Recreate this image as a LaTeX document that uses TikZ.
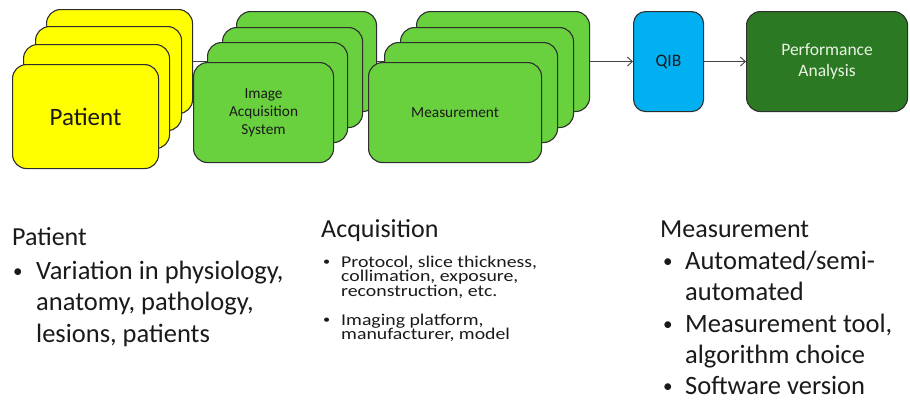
\documentclass[tikz,border=0pt]{standalone}
\usepackage{fontspec}
\setmainfont{Carlito}
\newfontfamily\widefont{Carlito}[FakeStretch=1.2]
\usetikzlibrary{arrows.meta}
\pgfdeclarelayer{background}
\pgfsetlayers{background,main}

\definecolor{patientyellow}{HTML}{FFFF00}
\definecolor{stagegreen}{HTML}{6AD13E}
\definecolor{qibblue}{HTML}{00B0F0}
\definecolor{perfgreen}{HTML}{2B7A23}
\definecolor{edgegray}{HTML}{2E2E2E}
\definecolor{inktext}{HTML}{1A1A1A}
\definecolor{palelabel}{HTML}{EAF3E4}

% bullet followed by a hanging block of tightly set lines
\newcommand{\smallbullet}{\raisebox{0.07em}{\scalebox{0.72}{\textbullet}}}
\newcommand{\bulletblock}[2]{\lineskiplimit=-50pt\relax\makebox[#1][l]{\smallbullet}\parbox[t]{300pt}{\lineskiplimit=-50pt\relax #2}}

\begin{document}
\begin{tikzpicture}[x=1pt,y=-1pt,
  card/.style={draw=edgegray, line width=1.1pt, rounded corners=14pt,
    anchor=north west, inner sep=0pt, align=center, text=inktext},
  ycard/.style={card, fill=patientyellow, minimum width=146pt, minimum height=104pt},
  acard/.style={card, fill=stagegreen, minimum width=140pt, minimum height=100pt},
  mcard/.style={card, fill=stagegreen, minimum width=173pt, minimum height=100pt},
  flow/.style={draw=edgegray!90, line width=0.9pt},
  heading/.style={anchor=base west, inner sep=0pt, text=inktext,
    font=\fontsize{26}{31}\selectfont},
  bigitem/.style={anchor=base west, inner sep=0pt, text=inktext,
    font=\fontsize{26.5}{31.5}\selectfont},
  smallitem/.style={anchor=base west, inner sep=0pt, text=inktext,
    font=\widefont\fontsize{16.5}{14.8}\selectfont}
]
\useasboundingbox (0,0) rectangle (910,400);

% patient stack
\node[ycard] (p4) at (46,9) {};
\node[ycard] (p3) at (35,26) {};
\node[ycard] (p2) at (23,44) {};
\node[ycard, font=\fontsize{25}{30}\selectfont] (p1) at (12,64) {Patient};

% image acquisition stack
\node[acard] (a4) at (236,11) {};
\node[acard] (a3) at (222,27) {};
\node[acard] (a2) at (207,42) {};
\node[acard, font=\fontsize{15.3}{18}\selectfont] (a1) at (193,62) {Image\\Acquisition\\System};

% measurement stack
\node[mcard] (m4) at (416,11) {};
\node[mcard] (m3) at (400,27) {};
\node[mcard] (m2) at (384,42) {};
\node[mcard, font=\fontsize{15.3}{18}\selectfont] (m1) at (368,62) {Measurement};

% biomarker and analysis
\node[card, fill=qibblue, rounded corners=12pt, minimum width=70pt, minimum height=100pt,
  font=\fontsize{17.5}{21}\selectfont] (qib) at (633,11) {QIB};
\node[card, fill=perfgreen, minimum width=161pt, minimum height=100pt, text=palelabel,
  font=\fontsize{17.5}{21.5}\selectfont] (perf) at (746,11) {Performance\\Analysis};

% flow line running behind the stacks
\begin{pgfonlayer}{background}
  \fill[white] (0,0) rectangle (910,400);
  \draw[flow] (p4.center |- qib.west) -- (m4.center |- qib.west);
\end{pgfonlayer}
\draw[flow, -{Straight Barb[length=5pt,width=9pt]}] (m4.east |- qib.west) -- (qib.west);
\draw[flow, -{Straight Barb[length=5pt,width=9pt]}] (qib.east) -- (perf.west);

% sources of variation
\node[heading] (patHead) at (12,245) {Patient};
\node[bigitem] (patItem) at (13,279) {\bulletblock{23pt}{Variation in physiology,\\anatomy, pathology,\\lesions, patients}};

\node[heading] (acqHead) at (321,237) {Acquisition};
\node[smallitem] (acqItemA) at (323,267) {\bulletblock{18pt}{Protocol, slice thickness,\\collimation, exposure,\\reconstruction, etc.}};
\node[smallitem] (acqItemB) at (323,325) {\bulletblock{18pt}{Imaging platform,\\manufacturer, model}};

\node[heading] (meaHead) at (660,237) {Measurement};
\node[bigitem] (meaItemA) at (663,269) {\bulletblock{22pt}{Automated/semi-\\automated}};
\node[bigitem] (meaItemB) at (663,332) {\bulletblock{22pt}{Measurement tool,\\algorithm choice}};
\node[bigitem] (meaItemC) at (663,394) {\bulletblock{22pt}{Software version}};
\end{tikzpicture}
\end{document}
